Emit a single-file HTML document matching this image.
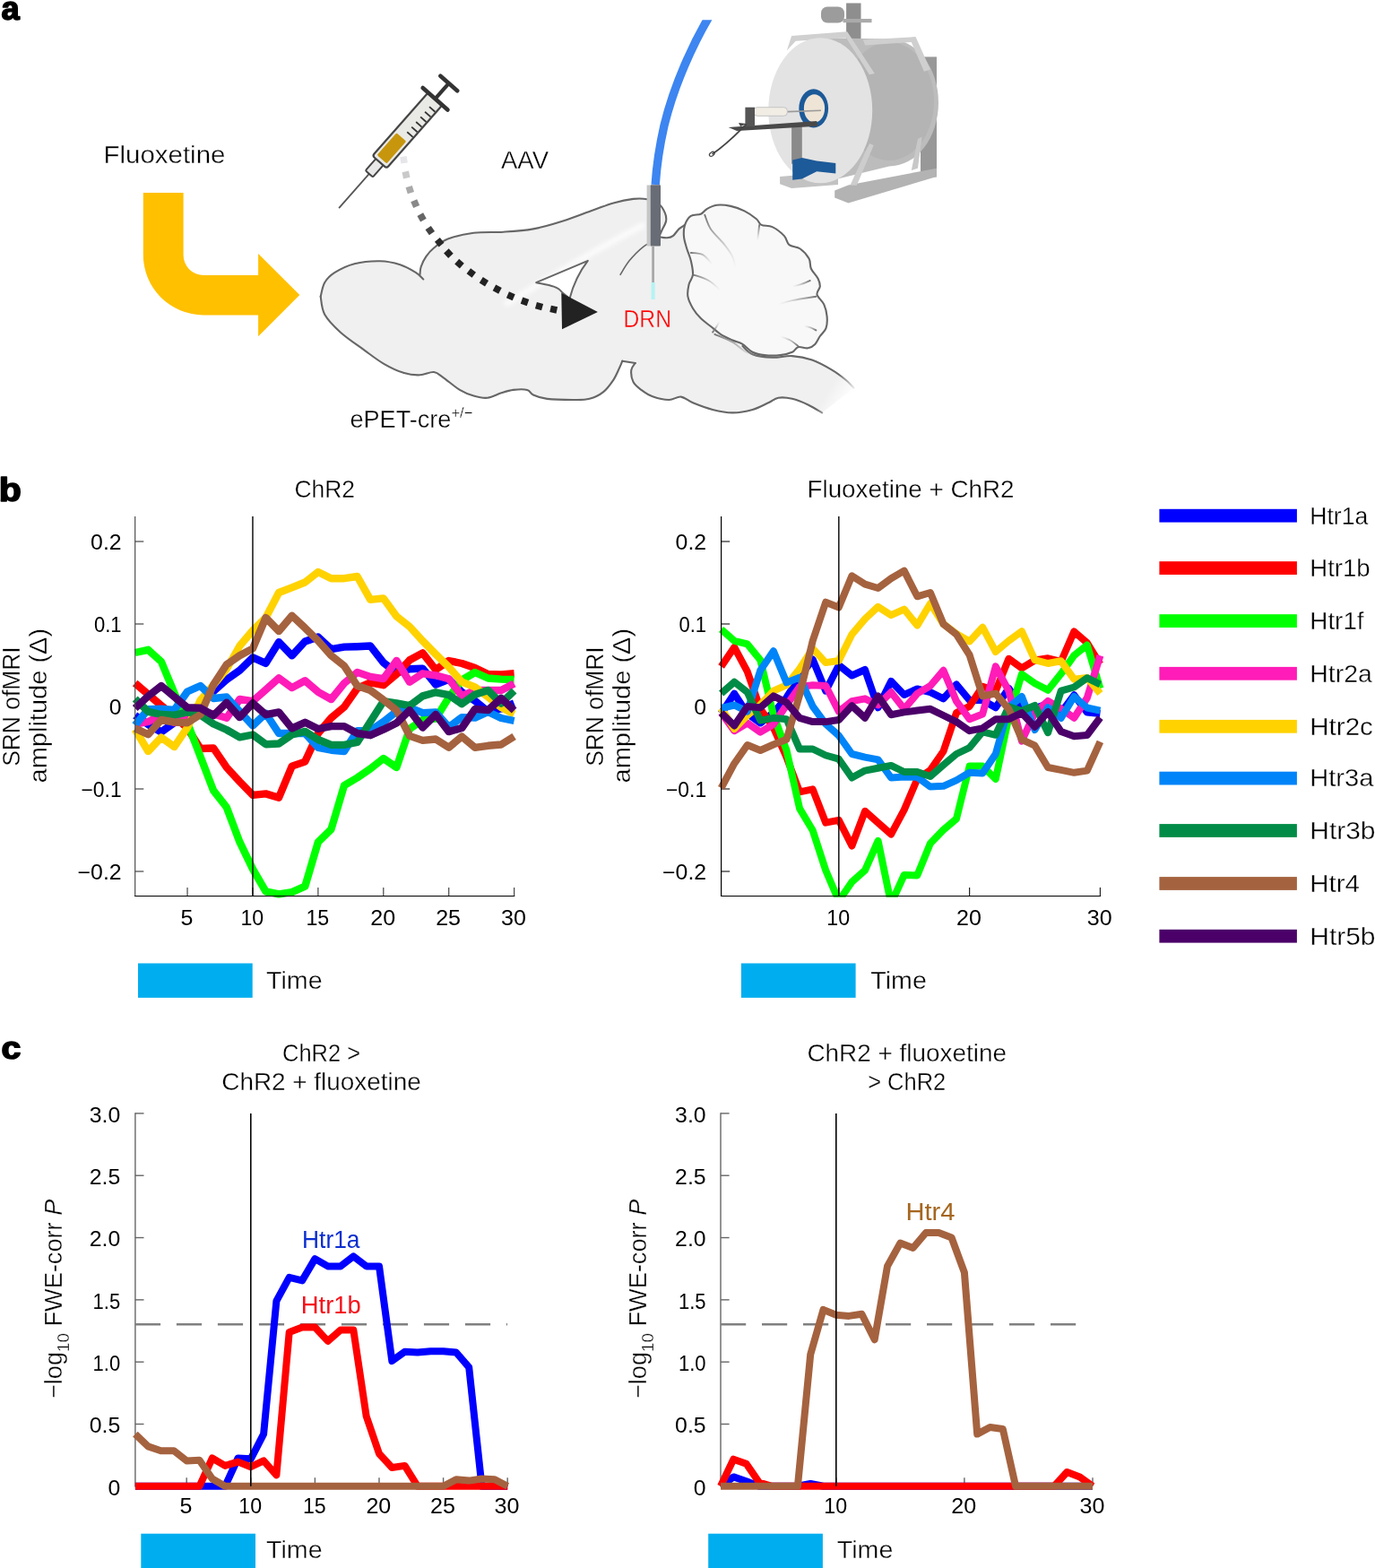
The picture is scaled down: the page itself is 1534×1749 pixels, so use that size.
<!DOCTYPE html>
<html lang="en"><head><meta charset="utf-8"><title>Figure</title>
<style>
html,body{margin:0;padding:0;background:#fff;}
body{width:1534px;height:1749px;overflow:hidden;}
svg{display:block;font-family:"Liberation Sans", sans-serif;}
</style></head><body>
<svg width="1534" height="1749" viewBox="0 0 1534 1749">
<rect width="1534" height="1749" fill="#fff"/>
<defs><linearGradient id="tailfade" gradientUnits="userSpaceOnUse" x1="895" y1="420" x2="945" y2="452"><stop offset="0" stop-color="#fff" stop-opacity="0"/><stop offset="0.55" stop-color="#fff" stop-opacity="0"/><stop offset="1" stop-color="#fff" stop-opacity="1"/></linearGradient><filter id="blur3" x="-20%" y="-20%" width="140%" height="140%"><feGaussianBlur stdDeviation="2.2"/></filter><filter id="blur3s" x="-30%" y="-30%" width="160%" height="160%"><feGaussianBlur stdDeviation="1.2"/></filter><filter id="blur1" x="-20%" y="-20%" width="140%" height="140%"><feGaussianBlur stdDeviation="0.5"/></filter><linearGradient id="dotfade" gradientUnits="userSpaceOnUse" x1="450" y1="178" x2="480" y2="262"><stop offset="0" stop-color="#e4e4e4"/><stop offset="0.35" stop-color="#a8a8a8"/><stop offset="0.8" stop-color="#444"/><stop offset="1" stop-color="#222"/></linearGradient></defs>
<g filter="url(#blur1)">
<path d="M357.7,330.8C358.4,328.2 359.6,319.6 362.2,315.2C364.8,310.8 367.7,307.7 373.2,304.2C378.7,300.7 386.9,296.3 395.4,294.2C403.9,292.1 415.7,291.1 424.2,291.3C432.7,291.5 439.8,293.2 446.4,295.3C453.0,297.4 459.8,301.5 464.1,304.2C468.4,306.9 470.9,310.3 472.3,311.5L468.5,306C468.7,304.6 468.6,300.8 469.7,297.5C470.8,294.2 472.8,289.9 475.2,286.4C477.6,282.9 480.0,279.8 484.1,276.5C488.2,273.2 492.2,269.3 499.6,266.5C507.0,263.7 518.1,261.1 528.4,259.8C538.7,258.5 550.5,259.4 561.6,258.7C572.7,258.0 583.8,257.4 594.9,255.4C606.0,253.4 617.0,250.0 628.1,246.5C639.2,243.0 652.0,237.8 661.4,234.5C670.8,231.2 676.8,228.5 684.3,226.4C691.8,224.3 700.2,222.6 706.5,221.9C712.8,221.2 717.2,221.3 722.0,222.3C726.8,223.3 732.0,225.1 735.3,227.7C738.6,230.2 740.6,234.5 741.9,237.6C743.2,240.7 743.6,243.3 743.1,246.5C742.6,249.7 739.9,253.6 738.6,256.5C737.3,259.4 735.8,262.9 735.3,264.2C736.8,264.4 741.6,265.5 744.2,265.3C746.8,265.1 748.6,264.8 750.8,263.1C753.0,261.5 755.3,257.4 757.5,255.4C759.7,253.4 763.0,251.7 764.1,250.9L773,306 L768,330 L782,355 L828,386C830.2,387.5 834.0,393.1 839.5,395.2C845.0,397.3 854.2,398.5 861.6,398.8C869.0,399.1 876.4,396.6 883.8,397.1C891.2,397.6 898.6,399.0 906.0,401.6C913.4,404.2 921.8,409.0 928.1,412.7C934.4,416.4 939.5,420.5 943.6,423.8C947.7,427.1 951.0,431.2 952.5,432.7L917,460.4C914.4,458.9 907.0,454.1 901.5,451.5C896.0,448.9 889.3,446.1 883.8,444.8C878.3,443.5 872.7,442.9 868.3,443.7C863.9,444.4 862.0,447.1 857.2,449.3C852.4,451.5 846.1,455.1 839.5,457.0C832.9,458.9 824.7,460.4 817.3,460.4C809.9,460.4 802.5,458.9 795.1,457.0C787.7,455.1 778.9,451.7 773.0,449.3C767.1,446.9 764.1,443.2 759.7,442.6C755.3,442.1 751.6,446.0 746.4,446.0C741.2,446.0 733.9,444.5 728.7,442.6C723.5,440.8 719.1,437.7 715.4,434.9C711.7,432.1 708.4,429.7 706.5,426.0C704.6,422.3 703.9,416.2 704.3,412.7C704.7,409.2 708.0,406.3 708.7,405.0L694.3,402.7C693.8,404.0 692.7,407.0 691.0,410.5C689.3,414.0 687.3,419.4 684.3,423.8C681.3,428.2 677.6,433.6 673.2,437.1C668.8,440.6 663.4,443.3 657.7,444.8C652.0,446.3 647.1,446.0 639.2,446.0C631.3,446.0 617.8,445.8 610.4,444.9C603.0,444.0 598.6,442.2 594.9,440.5C591.2,438.8 591.9,435.8 588.2,434.9C584.5,434.0 577.5,434.3 572.7,434.9C567.9,435.5 564.2,436.8 559.4,438.3C554.6,439.8 549.1,443.2 543.9,443.8C538.7,444.4 533.6,443.1 528.4,441.6C523.2,440.1 518.4,438.2 512.9,434.9C507.3,431.6 499.9,424.9 495.1,421.6C490.3,418.3 488.5,415.6 484.1,415.0C479.7,414.4 474.1,418.1 468.5,418.3C462.9,418.5 457.4,418.1 450.8,416.1C444.2,414.1 436.1,410.4 428.7,406.1C421.3,401.9 414.6,396.5 406.5,390.6C398.4,384.7 387.3,377.4 379.9,370.7C372.5,364.0 365.9,357.3 362.2,350.7C358.5,344.1 358.4,334.1 357.7,330.8Z" fill="#f0f0f0"/>
<path d="M566,338 C600,318 650,286 716,252" fill="none" stroke="#fcfcfc" stroke-width="7" stroke-linecap="round" filter="url(#blur3)" opacity="0.9"/>
<path d="M357.7,330.8C358.4,328.2 359.6,319.6 362.2,315.2C364.8,310.8 367.7,307.7 373.2,304.2C378.7,300.7 386.9,296.3 395.4,294.2C403.9,292.1 415.7,291.1 424.2,291.3C432.7,291.5 439.8,293.2 446.4,295.3C453.0,297.4 459.8,301.5 464.1,304.2C468.4,306.9 470.9,310.3 472.3,311.5" fill="none" stroke="#666" stroke-width="2.1" stroke-linecap="round" stroke-linejoin="round"/>
<path d="M468.5,306.0C468.7,304.6 468.6,300.8 469.7,297.5C470.8,294.2 472.8,289.9 475.2,286.4C477.6,282.9 480.0,279.8 484.1,276.5C488.2,273.2 492.2,269.3 499.6,266.5C507.0,263.7 518.1,261.1 528.4,259.8C538.7,258.5 550.5,259.4 561.6,258.7C572.7,258.0 583.8,257.4 594.9,255.4C606.0,253.4 617.0,250.0 628.1,246.5C639.2,243.0 652.0,237.8 661.4,234.5C670.8,231.2 676.8,228.5 684.3,226.4C691.8,224.3 700.2,222.6 706.5,221.9C712.8,221.2 717.2,221.3 722.0,222.3C726.8,223.3 732.0,225.1 735.3,227.7C738.6,230.2 740.6,234.5 741.9,237.6C743.2,240.7 743.6,243.3 743.1,246.5C742.6,249.7 739.9,253.6 738.6,256.5C737.3,259.4 735.8,262.9 735.3,264.2" fill="none" stroke="#666" stroke-width="2.1" stroke-linecap="round" stroke-linejoin="round"/>
<path d="M735.3,264.2C736.8,264.4 741.6,265.5 744.2,265.3C746.8,265.1 748.6,264.8 750.8,263.1C753.0,261.5 755.3,257.4 757.5,255.4C759.7,253.4 763.0,251.7 764.1,250.9" fill="none" stroke="#666" stroke-width="2.1" stroke-linecap="round" stroke-linejoin="round"/>
<path d="M357.7,330.8C358.4,334.1 358.5,344.1 362.2,350.7C365.9,357.3 372.5,364.0 379.9,370.7C387.3,377.4 398.4,384.7 406.5,390.6C414.6,396.5 421.3,401.9 428.7,406.1C436.1,410.4 444.2,414.1 450.8,416.1C457.4,418.1 462.9,418.5 468.5,418.3C474.1,418.1 479.7,414.4 484.1,415.0C488.5,415.6 490.3,418.3 495.1,421.6C499.9,424.9 507.3,431.6 512.9,434.9C518.4,438.2 523.2,440.1 528.4,441.6C533.6,443.1 538.7,444.4 543.9,443.8C549.1,443.2 554.6,439.8 559.4,438.3C564.2,436.8 567.9,435.5 572.7,434.9C577.5,434.3 584.5,434.0 588.2,434.9C591.9,435.8 591.2,438.8 594.9,440.5C598.6,442.2 603.0,444.0 610.4,444.9C617.8,445.8 631.3,446.0 639.2,446.0C647.1,446.0 652.0,446.3 657.7,444.8C663.4,443.3 668.8,440.6 673.2,437.1C677.6,433.6 681.3,428.2 684.3,423.8C687.3,419.4 689.3,414.0 691.0,410.5C692.7,407.0 693.8,404.0 694.3,402.7" fill="none" stroke="#666" stroke-width="2.1" stroke-linecap="round" stroke-linejoin="round"/>
<path d="M694.3,402.7 L708.7,405" fill="none" stroke="#666" stroke-width="2.1" stroke-linecap="round" stroke-linejoin="round"/>
<path d="M708.7,405.0C708.0,406.3 704.7,409.2 704.3,412.7C703.9,416.2 704.6,422.3 706.5,426.0C708.4,429.7 711.7,432.1 715.4,434.9C719.1,437.7 723.5,440.8 728.7,442.6C733.9,444.5 741.2,446.0 746.4,446.0C751.6,446.0 755.3,442.1 759.7,442.6C764.1,443.2 767.1,446.9 773.0,449.3C778.9,451.7 787.7,455.1 795.1,457.0C802.5,458.9 809.9,460.4 817.3,460.4C824.7,460.4 832.9,458.9 839.5,457.0C846.1,455.1 852.4,451.5 857.2,449.3C862.0,447.1 863.9,444.4 868.3,443.7C872.7,442.9 878.3,443.5 883.8,444.8C889.3,446.1 896.0,448.9 901.5,451.5C907.0,454.1 914.4,458.9 917.0,460.4" fill="none" stroke="#666" stroke-width="2.1" stroke-linecap="round" stroke-linejoin="round"/>
<path d="M828.4,386.0C830.2,387.5 834.0,393.1 839.5,395.2C845.0,397.3 854.2,398.5 861.6,398.8C869.0,399.1 876.4,396.6 883.8,397.1C891.2,397.6 898.6,399.0 906.0,401.6C913.4,404.2 921.8,409.0 928.1,412.7C934.4,416.4 939.5,420.5 943.6,423.8C947.7,427.1 951.0,431.2 952.5,432.7" fill="none" stroke="#666" stroke-width="2.1" stroke-linecap="round" stroke-linejoin="round"/>
<path d="M735.3,265.3C732.3,267.0 723.1,271.1 717.6,275.3C712.1,279.6 706.4,285.6 702.1,290.8C697.9,296.0 693.8,303.7 692.1,306.3" fill="none" stroke="#666" stroke-width="1.6" stroke-linecap="round" stroke-linejoin="round"/>
<path d="M890,395 L960,420 L960,470 L890,470 Z" fill="url(#tailfade)"/>
<path d="M598.2,315.2 L655.8,290.9 C648,301 640,316 635.5,333 L627,326 C622,319 612,318 598.2,315.2Z" fill="#fff" stroke="#666" stroke-width="2" stroke-linejoin="round"/>
<path d="M764.1,250.9C765.4,247.0 767.8,242.9 770.8,240.9C773.8,238.9 778.8,240.0 781.8,238.7C784.8,237.4 785.5,234.8 788.5,233.2C791.5,231.5 795.2,229.4 799.6,228.8C804.0,228.2 809.9,228.8 815.1,229.9C820.3,231.0 825.8,233.0 830.6,235.4C835.4,237.8 840.8,241.7 843.9,244.3C847.0,246.9 846.4,249.4 849.4,250.9C852.4,252.4 857.4,251.1 861.6,253.1C865.9,255.1 871.8,259.8 874.9,263.1C878.0,266.4 877.5,270.7 880.5,273.1C883.5,275.5 889.0,274.9 892.7,277.5C896.4,280.1 900.6,284.9 902.6,288.6C904.6,292.3 903.2,296.0 904.9,299.7C906.6,303.4 911.0,307.5 912.6,310.8C914.2,314.1 915.0,316.7 914.8,319.6C914.6,322.6 910.8,325.2 911.5,328.5C912.2,331.8 917.4,335.5 919.3,339.6C921.1,343.7 922.2,348.5 922.6,352.9C923.0,357.3 922.8,362.5 921.5,366.2C920.2,369.9 916.8,372.1 914.8,375.0C912.8,377.9 911.5,381.7 909.3,383.9C907.1,386.1 904.6,387.8 901.5,388.3C898.4,388.9 893.4,386.4 890.4,387.2C887.4,387.9 887.1,391.3 883.8,392.8C880.5,394.3 875.7,395.6 870.5,396.1C865.3,396.7 858.0,396.7 852.8,396.1C847.6,395.6 843.6,394.8 839.5,392.8C835.4,390.8 832.1,386.1 828.4,383.9C824.7,381.7 821.4,381.4 817.3,379.5C813.2,377.6 808.1,375.4 804.0,372.8C799.9,370.2 796.6,366.9 792.9,364.0C789.2,361.1 785.1,358.4 781.8,355.1C778.5,351.8 775.4,348.1 773.0,344.0C770.6,339.9 768.1,335.1 767.4,330.7C766.6,326.3 767.6,321.5 768.5,317.4C769.4,313.3 772.6,310.7 773.0,306.3C773.4,301.9 771.9,295.6 770.8,290.8C769.7,286.0 767.6,281.9 766.3,277.5C765.0,273.1 763.4,268.6 763.0,264.2C762.6,259.8 762.8,254.8 764.1,250.9Z" fill="#f8f8f8" stroke="#666" stroke-width="2.1" stroke-linejoin="round"/>
<linearGradient id="fg0" gradientUnits="userSpaceOnUse" x1="786.3" y1="239.8" x2="820.6" y2="299.7"><stop offset="0" stop-color="#6e6e6e" stop-opacity="0.95"/><stop offset="0.45" stop-color="#8a8a8a" stop-opacity="0.55"/><stop offset="1" stop-color="#bbb" stop-opacity="0"/></linearGradient>
<path d="M786.3,239.8C787.4,242.4 789.2,249.8 792.9,255.4C796.6,260.9 804.4,267.9 808.4,273.1C812.5,278.3 815.3,282.0 817.3,286.4C819.3,290.8 820.1,297.5 820.6,299.7" fill="none" stroke="url(#fg0)" stroke-width="1.9" stroke-linecap="round"/>
<linearGradient id="fg1" gradientUnits="userSpaceOnUse" x1="847.2" y1="250.9" x2="845.0" y2="268.7"><stop offset="0" stop-color="#6e6e6e" stop-opacity="0.95"/><stop offset="0.45" stop-color="#8a8a8a" stop-opacity="0.55"/><stop offset="1" stop-color="#bbb" stop-opacity="0"/></linearGradient>
<path d="M847.2,250.9C847.0,252.4 846.5,256.8 846.1,259.8C845.7,262.7 845.2,267.2 845.0,268.7" fill="none" stroke="url(#fg1)" stroke-width="1.9" stroke-linecap="round"/>
<linearGradient id="fg2" gradientUnits="userSpaceOnUse" x1="770.8" y1="282.0" x2="795.1" y2="295.2"><stop offset="0" stop-color="#6e6e6e" stop-opacity="0.95"/><stop offset="0.45" stop-color="#8a8a8a" stop-opacity="0.55"/><stop offset="1" stop-color="#bbb" stop-opacity="0"/></linearGradient>
<path d="M770.8,282.0C773.0,282.3 780.0,282.0 784.1,284.2C788.1,286.4 793.3,293.4 795.1,295.2" fill="none" stroke="url(#fg2)" stroke-width="1.9" stroke-linecap="round"/>
<linearGradient id="fg3" gradientUnits="userSpaceOnUse" x1="773.0" y1="306.3" x2="804.0" y2="324.1"><stop offset="0" stop-color="#6e6e6e" stop-opacity="0.95"/><stop offset="0.45" stop-color="#8a8a8a" stop-opacity="0.55"/><stop offset="1" stop-color="#bbb" stop-opacity="0"/></linearGradient>
<path d="M773.0,306.3C775.9,307.4 785.5,310.0 790.7,313.0C795.9,315.9 801.8,322.2 804.0,324.1" fill="none" stroke="url(#fg3)" stroke-width="1.9" stroke-linecap="round"/>
<linearGradient id="fg4" gradientUnits="userSpaceOnUse" x1="903.7" y1="313.0" x2="883.8" y2="319.6"><stop offset="0" stop-color="#6e6e6e" stop-opacity="0.95"/><stop offset="0.45" stop-color="#8a8a8a" stop-opacity="0.55"/><stop offset="1" stop-color="#bbb" stop-opacity="0"/></linearGradient>
<path d="M903.7,313.0C901.9,313.7 896.0,316.3 892.7,317.4C889.3,318.5 885.3,319.3 883.8,319.6" fill="none" stroke="url(#fg4)" stroke-width="1.9" stroke-linecap="round"/>
<linearGradient id="fg5" gradientUnits="userSpaceOnUse" x1="910.4" y1="330.7" x2="868.3" y2="339.6"><stop offset="0" stop-color="#6e6e6e" stop-opacity="0.95"/><stop offset="0.45" stop-color="#8a8a8a" stop-opacity="0.55"/><stop offset="1" stop-color="#bbb" stop-opacity="0"/></linearGradient>
<path d="M910.4,330.7C906.0,331.4 890.8,333.7 883.8,335.1C876.8,336.6 870.9,338.8 868.3,339.6" fill="none" stroke="url(#fg5)" stroke-width="1.9" stroke-linecap="round"/>
<linearGradient id="fg6" gradientUnits="userSpaceOnUse" x1="910.4" y1="368.4" x2="897.1" y2="363.5"><stop offset="0" stop-color="#6e6e6e" stop-opacity="0.95"/><stop offset="0.45" stop-color="#8a8a8a" stop-opacity="0.55"/><stop offset="1" stop-color="#bbb" stop-opacity="0"/></linearGradient>
<path d="M910.4,368.4C909.3,367.8 906.0,365.9 903.7,365.1C901.5,364.2 898.2,363.8 897.1,363.5" fill="none" stroke="url(#fg6)" stroke-width="1.9" stroke-linecap="round"/>
<linearGradient id="fg7" gradientUnits="userSpaceOnUse" x1="890.4" y1="386.1" x2="870.5" y2="375.0"><stop offset="0" stop-color="#6e6e6e" stop-opacity="0.95"/><stop offset="0.45" stop-color="#8a8a8a" stop-opacity="0.55"/><stop offset="1" stop-color="#bbb" stop-opacity="0"/></linearGradient>
<path d="M890.4,386.1C889.0,385.0 884.9,381.3 881.6,379.5C878.3,377.6 872.3,375.8 870.5,375.0" fill="none" stroke="url(#fg7)" stroke-width="1.9" stroke-linecap="round"/>
<linearGradient id="fg8" gradientUnits="userSpaceOnUse" x1="795.1" y1="370.6" x2="802.9" y2="358.4"><stop offset="0" stop-color="#6e6e6e" stop-opacity="0.95"/><stop offset="0.45" stop-color="#8a8a8a" stop-opacity="0.55"/><stop offset="1" stop-color="#bbb" stop-opacity="0"/></linearGradient>
<path d="M795.1,370.6C795.9,369.5 798.3,366.0 799.6,364.0C800.9,361.9 802.3,359.3 802.9,358.4" fill="none" stroke="url(#fg8)" stroke-width="1.9" stroke-linecap="round"/>
<linearGradient id="fg9" gradientUnits="userSpaceOnUse" x1="797.4" y1="372.8" x2="852.8" y2="398.3"><stop offset="0" stop-color="#6e6e6e" stop-opacity="0.95"/><stop offset="0.45" stop-color="#8a8a8a" stop-opacity="0.55"/><stop offset="1" stop-color="#bbb" stop-opacity="0"/></linearGradient>
<path d="M797.4,372.8C800.7,374.3 811.4,378.4 817.3,381.7C823.2,385.0 826.9,390.0 832.8,392.8C838.7,395.5 849.4,397.4 852.8,398.3" fill="none" stroke="url(#fg9)" stroke-width="1.9" stroke-linecap="round"/>
</g>
<path d="M159.8,215.1 L204.6,215.1 L204.6,284.5 A22.5,22.5 0 0 0 227.1,307 L288.1,307 L288.1,283 L334.3,329.1 L288.1,375.3 L288.1,351.4 L227,351.4 A67.2,67.2 0 0 1 159.8,284.2 Z" fill="#ffc000"/>
<g transform="translate(378.1,232.1) rotate(-48.6)">
<line x1="0" y1="0" x2="52" y2="0" stroke="#555" stroke-width="1.8"/>
<rect x="51" y="-5.5" width="18" height="11" rx="1.5" fill="#e8e8e8" stroke="#444" stroke-width="2"/>
<rect x="68.5" y="-10.5" width="94" height="21" rx="3" fill="#e9e9e6" stroke="#444" stroke-width="2.2"/>
<rect x="72.5" y="-7.2" width="33" height="14.4" rx="1.5" fill="#c8960c"/>
<line x1="114" y1="1" x2="114" y2="9.5" stroke="#333" stroke-width="1.8"/>
<line x1="121.5" y1="1" x2="121.5" y2="9.5" stroke="#333" stroke-width="1.8"/>
<line x1="129" y1="1" x2="129" y2="9.5" stroke="#333" stroke-width="1.8"/>
<line x1="136.5" y1="1" x2="136.5" y2="9.5" stroke="#333" stroke-width="1.8"/>
<line x1="144" y1="1" x2="144" y2="9.5" stroke="#333" stroke-width="1.8"/>
<line x1="151.5" y1="1" x2="151.5" y2="9.5" stroke="#333" stroke-width="1.8"/>
<line x1="162.5" y1="-18.5" x2="162.5" y2="18.5" stroke="#333" stroke-width="4.6" stroke-linecap="round"/>
<line x1="162.5" y1="0" x2="185.5" y2="0" stroke="#333" stroke-width="4.2"/>
<line x1="185.5" y1="-12.5" x2="185.5" y2="12.5" stroke="#333" stroke-width="4.6" stroke-linecap="round"/>
</g>
<rect x="446.8" y="174.5" width="7.4" height="7.6" fill="#e6e6ea" transform="rotate(81.5 450.5 178.3)"/>
<rect x="449.3" y="191.2" width="7.4" height="7.6" fill="#c9c9c9" transform="rotate(78.5 453.0 195.0)"/>
<rect x="453.6" y="207.8" width="7.4" height="7.6" fill="#a9a9a9" transform="rotate(72.4 457.3 211.6)"/>
<rect x="459.5" y="223.4" width="7.4" height="7.6" fill="#888" transform="rotate(66.6 463.2 227.2)"/>
<rect x="466.9" y="238.5" width="7.4" height="7.6" fill="#666" transform="rotate(61.0 470.6 242.3)"/>
<rect x="476.1" y="253.3" width="7.4" height="7.6" fill="#444" transform="rotate(54.9 479.8 257.1)"/>
<rect x="486.5" y="266.4" width="7.4" height="7.6" fill="#2a2a2a" transform="rotate(51.1 490.2 270.2)"/>
<rect x="496.7" y="278.8" width="7.4" height="7.6" fill="#222" transform="rotate(47.0 500.4 282.6)"/>
<rect x="508.8" y="290.3" width="7.4" height="7.6" fill="#222" transform="rotate(40.8 512.5 294.1)"/>
<rect x="522.1" y="300.7" width="7.4" height="7.6" fill="#222" transform="rotate(36.4 525.8 304.5)"/>
<rect x="536.2" y="310.5" width="7.4" height="7.6" fill="#222" transform="rotate(32.2 539.9 314.3)"/>
<rect x="551.0" y="318.9" width="7.4" height="7.6" fill="#222" transform="rotate(28.2 554.7 322.7)"/>
<rect x="566.1" y="326.5" width="7.4" height="7.6" fill="#222" transform="rotate(24.0 569.8 330.3)"/>
<rect x="581.8" y="332.6" width="7.4" height="7.6" fill="#222" transform="rotate(19.6 585.5 336.4)"/>
<rect x="597.8" y="337.8" width="7.4" height="7.6" fill="#222" transform="rotate(15.3 601.5 341.6)"/>
<rect x="614.0" y="341.4" width="7.4" height="7.6" fill="#222" transform="rotate(12.5 617.7 345.2)"/>
<path d="M626.3,326.8 L627,367.3 L666.9,348 Z" fill="#222"/>
<clipPath id="fibclip"><rect x="700" y="22.3" width="120" height="190"/></clipPath>
<path d="M795,12 C773,48 752,95 741,140 C736,162 732.5,185 731.2,206" fill="none" stroke="#3d85f0" stroke-width="9.4" clip-path="url(#fibclip)"/>
<rect x="721.6" y="206.5" width="6" height="68" fill="#c6c6c6"/>
<rect x="725.8" y="206.2" width="11.2" height="68.4" rx="1" fill="#686c74"/>
<rect x="727.2" y="274" width="2.8" height="42" fill="#a9a9a9"/>
<rect x="726.6" y="315" width="4" height="19" fill="#b5f3f3" filter="url(#blur1)"/>
<g filter="url(#blur1)">
<rect x="1027" y="63.4" width="18" height="134" fill="#989898"/>
<path d="M931.2,212.4 L946.4,206.5 L1045,187.7 L1045,197.1 L946.4,226.5 L931.2,220.6Z" fill="#b3b3b3"/>
<path d="M870.1,197.1 L911.2,193.6 L935,196 L935,206 L883.1,210 L870.1,205.3Z" fill="#c2c2c2"/>
<rect x="944.1" y="3.5" width="16.4" height="42" fill="#8e8e8e"/>
<rect x="940.5" y="21" width="32" height="4.2" fill="#aaa"/>
<rect x="916" y="7.5" width="26" height="18" rx="7" fill="#9c9c9c"/>
<path d="M915.2,42.2 L992,43.5 A55,71 0 0 1 992,185.5 L915.2,204.2 Z" fill="#bcbcbc"/>
<ellipse cx="992" cy="113" rx="50" ry="66" fill="#b4b4b4"/>
<path d="M877.9,56.3 L883.1,39.9 L945.2,35.2 L975.8,82.1 L969.9,83.3 L944.1,42.2 L887.8,45.8Z" fill="#d0d0d0"/>
<path d="M962.8,44.6 L1021.5,41.1 L1037.9,77.4 L1030.9,79.8 L1016.8,46.9 L965.2,50.5Z" fill="#cfcfcf"/>
<path d="M974.6,161.9 L955.8,206.5 L948.8,206.5 L967.5,164.3Z" fill="#c8c8c8"/>
<path d="M1028.6,152.5 L1023.9,187.7 L1016.8,190.1 L1023.9,154.9Z" fill="#c8c8c8"/>
<ellipse cx="915.2" cy="123.2" rx="58" ry="81" fill="#e3e3e3"/>
<path d="M948.8,206.5 L955.8,206.5 L974.6,161.9 L970,160 Z" fill="#cdcdcd"/>
<ellipse cx="907.7" cy="120.9" rx="16.4" ry="21.6" fill="#1f5a99"/>
<ellipse cx="908.5" cy="120.9" rx="11.6" ry="15.6" fill="#efe5d6"/>
<rect x="883.1" y="140.8" width="11.7" height="42" fill="#8a8a8a"/>
<path d="M884.2,178.4 L894.8,176 L911.2,179.5 L932.3,181.9 L932.3,193.6 L911.2,191.3 L894.8,199.5 L884.2,200.7Z" fill="#1f5a99"/>
<line x1="878" y1="124.6" x2="916" y2="123.2" stroke="#9a9a9a" stroke-width="1.6"/>
<rect x="840.8" y="119.7" width="37.6" height="9.6" rx="4" fill="#f1ede4" stroke="#c4c4c4" stroke-width="1"/>
<path d="M812.7,142 L911.2,134.9 L912.4,140.8 L822,146Z" fill="#4a4a4a"/>
<rect x="831.4" y="119.7" width="10.6" height="21.5" fill="#555"/>
<path d="M833,138 L826,141 L824,137 Z" fill="#444"/>
<path d="M832.6,138.5 C822,149 812,160 794.5,172" fill="none" stroke="#444" stroke-width="1.8"/>
<ellipse cx="794.3" cy="171.8" rx="3.2" ry="2" fill="none" stroke="#444" stroke-width="1.2" transform="rotate(-35 794.3 171.8)"/>
</g>
<text x="115.6" y="182.2" font-size="27" text-anchor="start" fill="#000" stroke="#fff" stroke-width="0.35" textLength="135.8" lengthAdjust="spacingAndGlyphs">Fluoxetine</text>
<text x="559" y="187.5" font-size="27" text-anchor="start" fill="#000" stroke="#fff" stroke-width="0.35" textLength="53" lengthAdjust="spacingAndGlyphs">AAV</text>
<text x="695.5" y="364.6" font-size="27" text-anchor="start" fill="#ff0000" stroke="#f0f0f0" stroke-width="0.35" textLength="53.5" lengthAdjust="spacingAndGlyphs">DRN</text>
<text x="390.4" y="476.6" font-size="27" textLength="137" lengthAdjust="spacingAndGlyphs" stroke="#fff" stroke-width="0.35">ePET-cre<tspan font-size="16.5" dy="-10.5">+/−</tspan></text>
<text x="1.6" y="21.8" font-size="36.3" text-anchor="start" fill="#000" font-weight="bold" stroke="#000" stroke-width="1.6" stroke-linejoin="round">a</text>
<text x="-1.2" y="559.1" font-size="37.1" text-anchor="start" fill="#000" textLength="25.1" lengthAdjust="spacingAndGlyphs" font-weight="bold" stroke="#000" stroke-width="1.6" stroke-linejoin="round">b</text>
<text x="1.6" y="1180.9" font-size="35" text-anchor="start" fill="#000" textLength="21.8" lengthAdjust="spacingAndGlyphs" font-weight="bold" stroke="#000" stroke-width="1.6" stroke-linejoin="round">c</text>
<clipPath id="clip150"><rect x="138.7" y="560" width="446.936" height="443"/></clipPath>
<line x1="150.7" y1="604" x2="160.29999999999998" y2="604" stroke="#444" stroke-width="1.2"/>
<text x="135.6" y="613.0" font-size="23.2" text-anchor="end" fill="#000" textLength="34.5" lengthAdjust="spacingAndGlyphs">0.2</text>
<line x1="150.7" y1="696" x2="160.29999999999998" y2="696" stroke="#444" stroke-width="1.2"/>
<text x="135.6" y="705.0" font-size="23.2" text-anchor="end" fill="#000" textLength="30.6" lengthAdjust="spacingAndGlyphs">0.1</text>
<line x1="150.7" y1="788.2" x2="160.29999999999998" y2="788.2" stroke="#444" stroke-width="1.2"/>
<text x="135.6" y="797.2" font-size="23.2" text-anchor="end" fill="#000" textLength="13.8" lengthAdjust="spacingAndGlyphs">0</text>
<line x1="150.7" y1="880" x2="160.29999999999998" y2="880" stroke="#444" stroke-width="1.2"/>
<text x="135.6" y="889.0" font-size="23.2" text-anchor="end" fill="#000" textLength="45.1" lengthAdjust="spacingAndGlyphs">−0.1</text>
<line x1="150.7" y1="972" x2="160.29999999999998" y2="972" stroke="#444" stroke-width="1.2"/>
<text x="135.6" y="981.0" font-size="23.2" text-anchor="end" fill="#000" textLength="49.0" lengthAdjust="spacingAndGlyphs">−0.2</text>
<line x1="209.036" y1="999.5" x2="209.036" y2="989.9" stroke="#444" stroke-width="1.2"/>
<text x="208.436" y="1032.3" font-size="23.2" text-anchor="middle" fill="#000" textLength="13.9" lengthAdjust="spacingAndGlyphs">5</text>
<line x1="281.956" y1="999.5" x2="281.956" y2="989.9" stroke="#444" stroke-width="1.2"/>
<text x="281.356" y="1032.3" font-size="23.2" text-anchor="middle" fill="#000" textLength="25.8" lengthAdjust="spacingAndGlyphs">10</text>
<line x1="354.876" y1="999.5" x2="354.876" y2="989.9" stroke="#444" stroke-width="1.2"/>
<text x="354.27599999999995" y="1032.3" font-size="23.2" text-anchor="middle" fill="#000" textLength="25.8" lengthAdjust="spacingAndGlyphs">15</text>
<line x1="427.796" y1="999.5" x2="427.796" y2="989.9" stroke="#444" stroke-width="1.2"/>
<text x="427.19599999999997" y="1032.3" font-size="23.2" text-anchor="middle" fill="#000" textLength="27.9" lengthAdjust="spacingAndGlyphs">20</text>
<line x1="500.71599999999995" y1="999.5" x2="500.71599999999995" y2="989.9" stroke="#444" stroke-width="1.2"/>
<text x="500.11599999999993" y="1032.3" font-size="23.2" text-anchor="middle" fill="#000" textLength="27.9" lengthAdjust="spacingAndGlyphs">25</text>
<line x1="573.636" y1="999.5" x2="573.636" y2="989.9" stroke="#444" stroke-width="1.2"/>
<text x="573.036" y="1032.3" font-size="23.2" text-anchor="middle" fill="#000" textLength="27.9" lengthAdjust="spacingAndGlyphs">30</text>
<g clip-path="url(#clip150)">
<polyline points="150.7,798.0 165.3,808.0 179.9,816.5 194.5,806.0 209.0,800.0 223.6,786.0 238.2,771.0 252.8,758.0 267.4,747.8 282.0,733.4 296.5,739.9 311.1,716.2 325.7,731.3 340.3,715.5 354.9,710.5 369.5,724.1 384.0,721.6 398.6,721.2 413.2,720.5 427.8,739.1 442.4,750.6 457.0,746.3 471.5,745.6 486.1,763.5 500.7,757.8 515.3,772.0 529.9,781.7 544.5,793.7 559.1,790.5 573.6,784.5" fill="none" stroke="#0000ff" stroke-width="8.4" stroke-linejoin="round" stroke-linecap="butt"/>
<polyline points="150.7,762.0 165.3,774.5 179.9,787.0 194.5,799.0 209.0,812.0 223.6,835.0 238.2,834.5 252.8,856.0 267.4,871.8 282.0,886.9 296.5,885.4 311.1,889.7 325.7,854.6 340.3,849.6 354.9,818.0 369.5,800.8 384.0,788.6 398.6,767.8 413.2,761.4 427.8,764.2 442.4,752.0 457.0,736.3 471.5,728.4 486.1,747.0 500.7,737.0 515.3,740.0 529.9,745.0 544.5,752.0 559.1,752.4 573.6,751.2" fill="none" stroke="#ff0000" stroke-width="8.4" stroke-linejoin="round" stroke-linecap="butt"/>
<polyline points="150.7,728.0 165.3,724.8 179.9,738.0 194.5,773.0 209.0,806.0 223.6,844.0 238.2,881.9 252.8,900.5 267.4,939.2 282.0,969.3 296.5,994.4 311.1,997.3 325.7,995.2 340.3,988.7 354.9,939.2 369.5,924.9 384.0,876.1 398.6,867.5 413.2,857.5 427.8,846.0 442.4,856.0 457.0,813.0 471.5,803.0 486.1,801.6 500.7,778.0 515.3,758.5 529.9,750.0 544.5,756.5 559.1,757.6 573.6,758.0" fill="none" stroke="#00ff00" stroke-width="8.4" stroke-linejoin="round" stroke-linecap="butt"/>
<polyline points="150.7,808.0 165.3,805.0 179.9,798.0 194.5,806.0 209.0,800.0 223.6,794.0 238.2,796.5 252.8,800.8 267.4,780.0 282.0,782.2 296.5,769.3 311.1,756.4 325.7,767.1 340.3,759.2 354.9,771.8 369.5,780.0 384.0,762.1 398.6,749.9 413.2,754.9 427.8,757.1 442.4,737.0 457.0,760.7 471.5,751.3 486.1,753.3 500.7,757.2 515.3,776.2 529.9,770.0 544.5,770.0 559.1,770.0 573.6,762.5" fill="none" stroke="#ff1cb8" stroke-width="8.4" stroke-linejoin="round" stroke-linecap="butt"/>
<polyline points="150.7,813.5 165.3,838.0 179.9,822.6 194.5,833.0 209.0,811.6 223.6,781.0 238.2,764.0 252.8,746.3 267.4,720.5 282.0,703.3 296.5,689.0 311.1,661.0 325.7,655.3 340.3,649.5 354.9,638.0 369.5,645.2 384.0,645.2 398.6,643.0 413.2,668.9 427.8,667.4 442.4,687.5 457.0,699.0 471.5,714.8 486.1,729.7 500.7,744.0 515.3,760.7 529.9,766.4 544.5,777.4 559.1,789.0 573.6,796.5" fill="none" stroke="#ffd200" stroke-width="8.4" stroke-linejoin="round" stroke-linecap="butt"/>
<polyline points="150.7,809.0 165.3,791.2 179.9,790.8 194.5,792.0 209.0,771.5 223.6,765.0 238.2,779.0 252.8,777.5 267.4,793.6 282.0,809.4 296.5,795.8 311.1,818.0 325.7,818.0 340.3,818.0 354.9,833.8 369.5,836.7 384.0,838.1 398.6,815.2 413.2,815.0 427.8,805.1 442.4,793.6 457.0,789.3 471.5,795.1 486.1,794.4 500.7,811.0 515.3,800.1 529.9,800.6 544.5,794.0 559.1,801.0 573.6,804.0" fill="none" stroke="#0084f8" stroke-width="8.4" stroke-linejoin="round" stroke-linecap="butt"/>
<polyline points="150.7,779.5 165.3,793.8 179.9,797.0 194.5,797.6 209.0,794.5 223.6,797.5 238.2,807.5 252.8,814.0 267.4,822.3 282.0,819.5 296.5,830.2 311.1,829.5 325.7,819.5 340.3,815.9 354.9,825.0 369.5,830.9 384.0,830.9 398.6,828.0 413.2,805.1 427.8,782.2 442.4,784.3 457.0,787.2 471.5,776.4 486.1,772.3 500.7,775.1 515.3,785.2 529.9,774.7 544.5,770.0 559.1,784.5 573.6,770.5" fill="none" stroke="#008c46" stroke-width="8.4" stroke-linejoin="round" stroke-linecap="butt"/>
<polyline points="150.7,812.4 165.3,819.2 179.9,803.0 194.5,805.5 209.0,806.2 223.6,797.0 238.2,763.5 252.8,741.3 267.4,731.3 282.0,723.4 296.5,689.0 311.1,704.0 325.7,686.8 340.3,700.4 354.9,714.8 369.5,731.3 384.0,742.7 398.6,765.0 413.2,770.0 427.8,780.7 442.4,792.2 457.0,820.9 471.5,825.9 486.1,824.5 500.7,833.7 515.3,821.6 529.9,833.9 544.5,831.8 559.1,830.5 573.6,821.5" fill="none" stroke="#a5623f" stroke-width="8.4" stroke-linejoin="round" stroke-linecap="butt"/>
<polyline points="150.7,790.0 165.3,776.5 179.9,765.1 194.5,777.2 209.0,789.3 223.6,789.8 238.2,798.0 252.8,783.8 267.4,800.1 282.0,784.3 296.5,797.2 311.1,794.4 325.7,812.3 340.3,805.8 354.9,813.0 369.5,810.1 384.0,810.1 398.6,818.0 413.2,820.2 427.8,813.7 442.4,806.5 457.0,792.2 471.5,811.6 486.1,797.0 500.7,816.1 515.3,812.0 529.9,790.9 544.5,792.1 559.1,778.8 573.6,792.5" fill="none" stroke="#4b0069" stroke-width="8.4" stroke-linejoin="round" stroke-linecap="butt"/>
</g>
<line x1="150.7" y1="576" x2="150.7" y2="1000.1" stroke="#4d4d4d" stroke-width="1.2"/>
<line x1="150.1" y1="999.5" x2="574.236" y2="999.5" stroke="#000" stroke-width="1.1"/>
<line x1="281.956" y1="576" x2="281.956" y2="999.5" stroke="#000" stroke-width="1.4"/>
<text x="362.2" y="554.6" font-size="27.5" text-anchor="middle" fill="#000" stroke="#fff" stroke-width="0.35" textLength="67.6" lengthAdjust="spacingAndGlyphs">ChR2</text>
<text x="22.2" y="788.1" font-size="27.5" text-anchor="middle" fill="#000" stroke="#fff" stroke-width="0.35" textLength="133.5" lengthAdjust="spacingAndGlyphs" transform="rotate(-90 22.2 788.1)">SRN ofMRI</text>
<text x="52.3" y="787.2" font-size="27.5" text-anchor="middle" fill="#000" stroke="#fff" stroke-width="0.35" textLength="172.6" lengthAdjust="spacingAndGlyphs" transform="rotate(-90 52.3 787.2)">amplitude (Δ)</text>
<rect x="154" y="1074.5" width="127.7" height="38.4" fill="#00aeef"/>
<text x="297.1" y="1103.4" font-size="27.5" text-anchor="start" fill="#000" stroke="#fff" stroke-width="0.35" textLength="62.5" lengthAdjust="spacingAndGlyphs">Time</text>
<clipPath id="clip804"><rect x="792.6" y="560" width="446.82000000000005" height="440.70000000000005"/></clipPath>
<line x1="804.6" y1="604" x2="814.2" y2="604" stroke="#222" stroke-width="1.2"/>
<text x="788.1" y="613.0" font-size="23.2" text-anchor="end" fill="#000" textLength="34.5" lengthAdjust="spacingAndGlyphs">0.2</text>
<line x1="804.6" y1="696" x2="814.2" y2="696" stroke="#222" stroke-width="1.2"/>
<text x="788.1" y="705.0" font-size="23.2" text-anchor="end" fill="#000" textLength="30.6" lengthAdjust="spacingAndGlyphs">0.1</text>
<line x1="804.6" y1="788.2" x2="814.2" y2="788.2" stroke="#222" stroke-width="1.2"/>
<text x="788.1" y="797.2" font-size="23.2" text-anchor="end" fill="#000" textLength="13.8" lengthAdjust="spacingAndGlyphs">0</text>
<line x1="804.6" y1="880" x2="814.2" y2="880" stroke="#222" stroke-width="1.2"/>
<text x="788.1" y="889.0" font-size="23.2" text-anchor="end" fill="#000" textLength="45.1" lengthAdjust="spacingAndGlyphs">−0.1</text>
<line x1="804.6" y1="972" x2="814.2" y2="972" stroke="#222" stroke-width="1.2"/>
<text x="788.1" y="981.0" font-size="23.2" text-anchor="end" fill="#000" textLength="49.0" lengthAdjust="spacingAndGlyphs">−0.2</text>
<line x1="935.82" y1="999.5" x2="935.82" y2="989.9" stroke="#222" stroke-width="1.2"/>
<text x="935.22" y="1032.3" font-size="23.2" text-anchor="middle" fill="#000" textLength="25.8" lengthAdjust="spacingAndGlyphs">10</text>
<line x1="1081.62" y1="999.5" x2="1081.62" y2="989.9" stroke="#222" stroke-width="1.2"/>
<text x="1081.02" y="1032.3" font-size="23.2" text-anchor="middle" fill="#000" textLength="27.9" lengthAdjust="spacingAndGlyphs">20</text>
<line x1="1227.42" y1="999.5" x2="1227.42" y2="989.9" stroke="#222" stroke-width="1.2"/>
<text x="1226.8200000000002" y="1032.3" font-size="23.2" text-anchor="middle" fill="#000" textLength="27.9" lengthAdjust="spacingAndGlyphs">30</text>
<g clip-path="url(#clip804)">
<polyline points="804.6,796.0 819.2,773.6 833.8,796.0 848.3,806.5 862.9,795.0 877.5,778.0 892.1,755.0 906.7,735.6 921.2,770.7 935.8,742.0 950.4,753.5 965.0,747.0 979.6,789.3 994.1,759.9 1008.7,775.0 1023.3,768.5 1037.9,772.1 1052.5,779.3 1067.0,763.5 1081.6,781.0 1096.2,781.0 1110.8,789.3 1125.4,767.8 1139.9,789.7 1154.5,790.0 1169.1,785.0 1183.7,795.0 1198.3,775.3 1212.8,794.5 1227.4,796.1" fill="none" stroke="#0000ff" stroke-width="8" stroke-linejoin="round" stroke-linecap="butt"/>
<polyline points="804.6,743.4 819.2,721.9 833.8,749.2 848.3,790.8 862.9,811.6 877.5,844.6 892.1,883.3 906.7,880.4 921.2,917.7 935.8,914.8 950.4,943.5 965.0,904.8 979.6,917.7 994.1,930.6 1008.7,903.4 1023.3,869.0 1037.9,859.0 1052.5,838.0 1067.0,795.0 1081.6,787.9 1096.2,765.7 1110.8,770.7 1125.4,734.8 1139.9,745.3 1154.5,736.5 1169.1,734.3 1183.7,738.0 1198.3,704.4 1212.8,717.0 1227.4,740.8" fill="none" stroke="#ff0000" stroke-width="8" stroke-linejoin="round" stroke-linecap="butt"/>
<polyline points="804.6,701.9 819.2,714.8 833.8,718.4 848.3,736.3 862.9,797.5 877.5,837.0 892.1,901.9 906.7,926.3 921.2,970.8 935.8,1005.0 950.4,983.7 965.0,970.8 979.6,937.8 994.1,1008.0 1008.7,976.0 1023.3,976.5 1037.9,940.7 1052.5,925.6 1067.0,913.4 1081.6,854.6 1096.2,854.6 1110.8,869.0 1125.4,800.0 1139.9,752.0 1154.5,762.3 1169.1,769.8 1183.7,751.6 1198.3,731.2 1212.8,719.5 1227.4,768.0" fill="none" stroke="#00ff00" stroke-width="8" stroke-linejoin="round" stroke-linecap="butt"/>
<polyline points="804.6,795.0 819.2,815.2 833.8,806.5 848.3,816.6 862.9,808.0 877.5,786.5 892.1,766.0 906.7,764.2 921.2,765.0 935.8,793.6 950.4,782.2 965.0,779.3 979.6,786.5 994.1,772.1 1008.7,790.8 1023.3,773.6 1037.9,765.0 1052.5,747.8 1067.0,782.2 1081.6,802.2 1096.2,796.5 1110.8,743.4 1125.4,770.7 1139.9,826.6 1154.5,795.0 1169.1,781.9 1183.7,790.5 1198.3,800.8 1212.8,778.5 1227.4,731.2" fill="none" stroke="#ff1cb8" stroke-width="8" stroke-linejoin="round" stroke-linecap="butt"/>
<polyline points="804.6,790.0 819.2,813.0 833.8,798.0 848.3,786.0 862.9,770.7 877.5,764.2 892.1,746.0 906.7,723.4 921.2,739.1 935.8,737.0 950.4,707.6 965.0,690.4 979.6,676.8 994.1,686.1 1008.7,679.6 1023.3,697.6 1037.9,673.2 1052.5,696.0 1067.0,707.0 1081.6,715.5 1096.2,699.7 1110.8,727.0 1125.4,714.8 1139.9,704.2 1154.5,736.1 1169.1,740.0 1183.7,737.3 1198.3,757.7 1212.8,756.0 1227.4,773.5" fill="none" stroke="#ffd200" stroke-width="8" stroke-linejoin="round" stroke-linecap="butt"/>
<polyline points="804.6,790.0 819.2,786.5 833.8,793.6 848.3,747.8 862.9,726.2 877.5,761.4 892.1,755.6 906.7,787.9 921.2,807.6 935.8,820.5 950.4,841.0 965.0,844.6 979.6,847.4 994.1,867.5 1008.7,866.5 1023.3,866.8 1037.9,877.6 1052.5,876.8 1067.0,870.4 1081.6,861.8 1096.2,862.5 1110.8,841.0 1125.4,789.0 1139.9,777.0 1154.5,814.1 1169.1,789.2 1183.7,800.9 1198.3,777.0 1212.8,789.5 1227.4,792.6" fill="none" stroke="#0084f8" stroke-width="8" stroke-linejoin="round" stroke-linecap="butt"/>
<polyline points="804.6,773.6 819.2,760.7 833.8,772.1 848.3,803.7 862.9,800.8 877.5,802.2 892.1,835.6 906.7,835.5 921.2,842.5 935.8,846.7 950.4,867.5 965.0,859.6 979.6,856.8 994.1,853.9 1008.7,861.0 1023.3,861.0 1037.9,866.0 1052.5,853.2 1067.0,841.0 1081.6,834.0 1096.2,816.3 1110.8,819.8 1125.4,788.3 1139.9,793.0 1154.5,786.9 1169.1,817.2 1183.7,770.6 1198.3,766.5 1212.8,756.2 1227.4,763.5" fill="none" stroke="#008c46" stroke-width="8" stroke-linejoin="round" stroke-linecap="butt"/>
<polyline points="804.6,879.0 819.2,851.7 833.8,831.0 848.3,837.0 862.9,830.5 877.5,824.8 892.1,775.0 906.7,714.8 921.2,671.7 935.8,677.5 950.4,642.3 965.0,651.7 979.6,656.0 994.1,645.2 1008.7,636.6 1023.3,665.3 1037.9,661.0 1052.5,696.1 1067.0,707.6 1081.6,730.5 1096.2,776.4 1110.8,773.6 1125.4,790.8 1139.9,824.8 1154.5,831.7 1169.1,856.0 1183.7,858.9 1198.3,861.8 1212.8,859.6 1227.4,827.4" fill="none" stroke="#a5623f" stroke-width="8" stroke-linejoin="round" stroke-linecap="butt"/>
<polyline points="804.6,795.1 819.2,809.4 833.8,787.9 848.3,789.3 862.9,776.4 877.5,783.6 892.1,800.8 906.7,805.1 921.2,805.1 935.8,803.0 950.4,787.2 965.0,800.8 979.6,776.4 994.1,797.2 1008.7,794.4 1023.3,792.5 1037.9,790.8 1052.5,798.0 1067.0,805.1 1081.6,815.2 1096.2,812.3 1110.8,802.2 1125.4,802.2 1139.9,795.2 1154.5,810.7 1169.1,794.0 1183.7,816.0 1198.3,821.3 1212.8,820.0 1227.4,800.5" fill="none" stroke="#4b0069" stroke-width="8" stroke-linejoin="round" stroke-linecap="butt"/>
</g>
<line x1="804.6" y1="576" x2="804.6" y2="1000.1" stroke="#000" stroke-width="1.2"/>
<line x1="804.0" y1="999.5" x2="1228.02" y2="999.5" stroke="#000" stroke-width="1.1"/>
<line x1="935.82" y1="576" x2="935.82" y2="999.5" stroke="#000" stroke-width="1.4"/>
<text x="1016" y="554.6" font-size="27.5" text-anchor="middle" fill="#000" stroke="#fff" stroke-width="0.35" textLength="231" lengthAdjust="spacingAndGlyphs">Fluoxetine + ChR2</text>
<text x="672.7" y="788.1" font-size="27.5" text-anchor="middle" fill="#000" stroke="#fff" stroke-width="0.35" textLength="133.5" lengthAdjust="spacingAndGlyphs" transform="rotate(-90 672.7 788.1)">SRN ofMRI</text>
<text x="702.8" y="787.2" font-size="27.5" text-anchor="middle" fill="#000" stroke="#fff" stroke-width="0.35" textLength="172.6" lengthAdjust="spacingAndGlyphs" transform="rotate(-90 702.8 787.2)">amplitude (Δ)</text>
<rect x="826.9" y="1074.5" width="127.7" height="38.4" fill="#00aeef"/>
<text x="971.3" y="1103.4" font-size="27.5" text-anchor="start" fill="#000" stroke="#fff" stroke-width="0.35" textLength="62.5" lengthAdjust="spacingAndGlyphs">Time</text>
<rect x="1293.4" y="567.8" width="153.5" height="14.8" fill="#0000ff"/>
<text x="1461.3" y="584.5" font-size="27.5" text-anchor="start" fill="#000" stroke="#fff" stroke-width="0.35" textLength="64.9" lengthAdjust="spacingAndGlyphs">Htr1a</text>
<rect x="1293.4" y="626.2" width="153.5" height="14.8" fill="#ff0000"/>
<text x="1461.3" y="642.9" font-size="27.5" text-anchor="start" fill="#000" stroke="#fff" stroke-width="0.35" textLength="67.4" lengthAdjust="spacingAndGlyphs">Htr1b</text>
<rect x="1293.4" y="685.2" width="153.5" height="14.8" fill="#00ff00"/>
<text x="1461.3" y="701.9" font-size="27.5" text-anchor="start" fill="#000" stroke="#fff" stroke-width="0.35" textLength="60.300000000000004" lengthAdjust="spacingAndGlyphs">Htr1f</text>
<rect x="1293.4" y="743.9" width="153.5" height="14.8" fill="#ff1cb8"/>
<text x="1461.3" y="760.5999999999999" font-size="27.5" text-anchor="start" fill="#000" stroke="#fff" stroke-width="0.35" textLength="69.5" lengthAdjust="spacingAndGlyphs">Htr2a</text>
<rect x="1293.4" y="802.9" width="153.5" height="14.8" fill="#ffd200"/>
<text x="1461.3" y="819.5999999999999" font-size="27.5" text-anchor="start" fill="#000" stroke="#fff" stroke-width="0.35" textLength="70.5" lengthAdjust="spacingAndGlyphs">Htr2c</text>
<rect x="1293.4" y="860.7" width="153.5" height="14.8" fill="#0084f8"/>
<text x="1461.3" y="877.4" font-size="27.5" text-anchor="start" fill="#000" stroke="#fff" stroke-width="0.35" textLength="71.10000000000001" lengthAdjust="spacingAndGlyphs">Htr3a</text>
<rect x="1293.4" y="919.1" width="153.5" height="14.8" fill="#008c46"/>
<text x="1461.3" y="935.8" font-size="27.5" text-anchor="start" fill="#000" stroke="#fff" stroke-width="0.35" textLength="73.2" lengthAdjust="spacingAndGlyphs">Htr3b</text>
<rect x="1293.4" y="978.1" width="153.5" height="14.8" fill="#a5623f"/>
<text x="1461.3" y="994.8" font-size="27.5" text-anchor="start" fill="#000" stroke="#fff" stroke-width="0.35" textLength="55.6" lengthAdjust="spacingAndGlyphs">Htr4</text>
<rect x="1293.4" y="1036.8" width="153.5" height="14.8" fill="#4b0069"/>
<text x="1461.3" y="1053.5" font-size="27.5" text-anchor="start" fill="#000" stroke="#fff" stroke-width="0.35" textLength="73.2" lengthAdjust="spacingAndGlyphs">Htr5b</text>
<text x="134.2" y="1667.7" font-size="23.2" text-anchor="end" fill="#000" textLength="13.8" lengthAdjust="spacingAndGlyphs">0</text>
<line x1="150.9" y1="1588.485" x2="160.5" y2="1588.485" stroke="#666" stroke-width="1.4"/>
<text x="134.2" y="1598.385" font-size="23.2" text-anchor="end" fill="#000" textLength="34.5" lengthAdjust="spacingAndGlyphs">0.5</text>
<line x1="150.9" y1="1519.17" x2="160.5" y2="1519.17" stroke="#666" stroke-width="1.4"/>
<text x="134.2" y="1529.0700000000002" font-size="23.2" text-anchor="end" fill="#000" textLength="30.6" lengthAdjust="spacingAndGlyphs">1.0</text>
<line x1="150.9" y1="1449.855" x2="160.5" y2="1449.855" stroke="#666" stroke-width="1.4"/>
<text x="134.2" y="1459.755" font-size="23.2" text-anchor="end" fill="#000" textLength="30.6" lengthAdjust="spacingAndGlyphs">1.5</text>
<line x1="150.9" y1="1380.54" x2="160.5" y2="1380.54" stroke="#666" stroke-width="1.4"/>
<text x="134.2" y="1390.44" font-size="23.2" text-anchor="end" fill="#000" textLength="34.5" lengthAdjust="spacingAndGlyphs">2.0</text>
<line x1="150.9" y1="1311.225" x2="160.5" y2="1311.225" stroke="#666" stroke-width="1.4"/>
<text x="134.2" y="1321.125" font-size="23.2" text-anchor="end" fill="#000" textLength="34.5" lengthAdjust="spacingAndGlyphs">2.5</text>
<line x1="150.9" y1="1241.9099999999999" x2="160.5" y2="1241.9099999999999" stroke="#666" stroke-width="1.4"/>
<text x="134.2" y="1251.81" font-size="23.2" text-anchor="end" fill="#000" textLength="34.5" lengthAdjust="spacingAndGlyphs">3.0</text>
<line x1="208.18" y1="1657.8" x2="208.18" y2="1648.2" stroke="#666" stroke-width="1.4"/>
<text x="207.58" y="1688.3" font-size="23.2" text-anchor="middle" fill="#000" textLength="13.9" lengthAdjust="spacingAndGlyphs">5</text>
<line x1="279.78" y1="1657.8" x2="279.78" y2="1648.2" stroke="#666" stroke-width="1.4"/>
<text x="279.17999999999995" y="1688.3" font-size="23.2" text-anchor="middle" fill="#000" textLength="25.8" lengthAdjust="spacingAndGlyphs">10</text>
<line x1="351.38" y1="1657.8" x2="351.38" y2="1648.2" stroke="#666" stroke-width="1.4"/>
<text x="350.78" y="1688.3" font-size="23.2" text-anchor="middle" fill="#000" textLength="25.8" lengthAdjust="spacingAndGlyphs">15</text>
<line x1="422.98" y1="1657.8" x2="422.98" y2="1648.2" stroke="#666" stroke-width="1.4"/>
<text x="422.38" y="1688.3" font-size="23.2" text-anchor="middle" fill="#000" textLength="27.9" lengthAdjust="spacingAndGlyphs">20</text>
<line x1="494.58000000000004" y1="1657.8" x2="494.58000000000004" y2="1648.2" stroke="#666" stroke-width="1.4"/>
<text x="493.98" y="1688.3" font-size="23.2" text-anchor="middle" fill="#000" textLength="27.9" lengthAdjust="spacingAndGlyphs">25</text>
<line x1="566.1800000000001" y1="1657.8" x2="566.1800000000001" y2="1648.2" stroke="#666" stroke-width="1.4"/>
<text x="565.58" y="1688.3" font-size="23.2" text-anchor="middle" fill="#000" textLength="27.9" lengthAdjust="spacingAndGlyphs">30</text>
<line x1="150.9" y1="1241.2" x2="150.9" y2="1658.5" stroke="#666" stroke-width="1.4"/>
<line x1="150.9" y1="1657.8" x2="566.1800000000001" y2="1657.8" stroke="#666" stroke-width="1.4"/>
<line x1="150.9" y1="1477.2" x2="566" y2="1477.2" stroke="#808080" stroke-width="2.6" stroke-dasharray="28.2 17.8"/>
<polyline points="150.9,1657.8 165.2,1657.8 179.5,1657.8 193.9,1657.8 208.2,1657.8 222.5,1657.8 236.8,1657.8 251.1,1657.8 265.5,1626.5 279.8,1627.3 294.1,1599.6 308.4,1451.2 322.7,1424.9 337.1,1428.4 351.4,1404.1 365.7,1412.4 380.0,1412.4 394.3,1401.3 408.7,1412.4 423.0,1412.4 437.3,1518.1 451.6,1507.7 465.9,1508.5 480.3,1507.2 494.6,1507.2 508.9,1508.5 523.2,1525.1 537.5,1657.8 551.9,1657.8 566.2,1657.8" fill="none" stroke="#0000ff" stroke-width="8" stroke-linejoin="round" stroke-linecap="butt"/>
<polyline points="150.9,1657.8 165.2,1657.8 179.5,1657.8 193.9,1657.8 208.2,1657.8 222.5,1657.8 236.8,1626.5 251.1,1634.9 265.5,1630.6 279.8,1636.2 294.1,1629.4 308.4,1645.3 322.7,1485.9 337.1,1480.5 351.4,1480.5 365.7,1495.9 380.0,1483.4 394.3,1483.4 408.7,1579.8 423.0,1621.5 437.3,1637.0 451.6,1634.9 465.9,1657.8 480.3,1657.8 494.6,1657.8 508.9,1657.8 523.2,1657.8 537.5,1657.8 551.9,1657.8 566.2,1657.8" fill="none" stroke="#ff0000" stroke-width="8" stroke-linejoin="round" stroke-linecap="butt"/>
<polyline points="150.9,1599.6 165.2,1613.4 179.5,1618.2 193.9,1618.2 208.2,1629.4 222.5,1628.7 236.8,1649.5 251.1,1657.8 265.5,1657.8 279.8,1657.8 294.1,1657.8 308.4,1657.8 322.7,1657.8 337.1,1657.8 351.4,1657.8 365.7,1657.8 380.0,1657.8 394.3,1657.8 408.7,1657.8 423.0,1657.8 437.3,1657.8 451.6,1657.8 465.9,1657.8 480.3,1657.8 494.6,1657.8 508.9,1650.3 523.2,1651.6 537.5,1649.5 551.9,1650.3 566.2,1657.8" fill="none" stroke="#a5623f" stroke-width="8" stroke-linejoin="round" stroke-linecap="butt"/>
<line x1="279.78" y1="1241.9" x2="279.78" y2="1657.8" stroke="#000" stroke-width="1.6"/>
<text x="358.5" y="1184" font-size="27.5" text-anchor="middle" fill="#000" stroke="#fff" stroke-width="0.35" textLength="87" lengthAdjust="spacingAndGlyphs">ChR2 &gt;</text>
<text x="358.5" y="1216.1" font-size="27.5" text-anchor="middle" fill="#000" stroke="#fff" stroke-width="0.35" textLength="222.5" lengthAdjust="spacingAndGlyphs">ChR2 + fluoxetine</text>
<text x="68.8" y="1448.9" font-size="27.5" text-anchor="middle" transform="rotate(-90 68.8 1448.9)" textLength="222.3" lengthAdjust="spacingAndGlyphs" stroke="#fff" stroke-width="0.35">−log<tspan font-size="19" dy="8">10</tspan><tspan dy="-8"> FWE-corr </tspan><tspan font-style="italic">P</tspan></text>
<rect x="157.3" y="1710.7" width="127.7" height="38.4" fill="#00aeef"/>
<text x="297.1" y="1738.2" font-size="27.5" text-anchor="start" fill="#000" stroke="#fff" stroke-width="0.35" textLength="62.5" lengthAdjust="spacingAndGlyphs">Time</text>
<text x="787.6" y="1667.7" font-size="23.2" text-anchor="end" fill="#000" textLength="13.8" lengthAdjust="spacingAndGlyphs">0</text>
<line x1="804" y1="1588.485" x2="813.6" y2="1588.485" stroke="#666" stroke-width="1.4"/>
<text x="787.6" y="1598.385" font-size="23.2" text-anchor="end" fill="#000" textLength="34.5" lengthAdjust="spacingAndGlyphs">0.5</text>
<line x1="804" y1="1519.17" x2="813.6" y2="1519.17" stroke="#666" stroke-width="1.4"/>
<text x="787.6" y="1529.0700000000002" font-size="23.2" text-anchor="end" fill="#000" textLength="30.6" lengthAdjust="spacingAndGlyphs">1.0</text>
<line x1="804" y1="1449.855" x2="813.6" y2="1449.855" stroke="#666" stroke-width="1.4"/>
<text x="787.6" y="1459.755" font-size="23.2" text-anchor="end" fill="#000" textLength="30.6" lengthAdjust="spacingAndGlyphs">1.5</text>
<line x1="804" y1="1380.54" x2="813.6" y2="1380.54" stroke="#666" stroke-width="1.4"/>
<text x="787.6" y="1390.44" font-size="23.2" text-anchor="end" fill="#000" textLength="34.5" lengthAdjust="spacingAndGlyphs">2.0</text>
<line x1="804" y1="1311.225" x2="813.6" y2="1311.225" stroke="#666" stroke-width="1.4"/>
<text x="787.6" y="1321.125" font-size="23.2" text-anchor="end" fill="#000" textLength="34.5" lengthAdjust="spacingAndGlyphs">2.5</text>
<line x1="804" y1="1241.9099999999999" x2="813.6" y2="1241.9099999999999" stroke="#666" stroke-width="1.4"/>
<text x="787.6" y="1251.81" font-size="23.2" text-anchor="end" fill="#000" textLength="34.5" lengthAdjust="spacingAndGlyphs">3.0</text>
<line x1="932.79" y1="1657.8" x2="932.79" y2="1648.2" stroke="#666" stroke-width="1.4"/>
<text x="932.1899999999999" y="1688.3" font-size="23.2" text-anchor="middle" fill="#000" textLength="25.8" lengthAdjust="spacingAndGlyphs">10</text>
<line x1="1075.8899999999999" y1="1657.8" x2="1075.8899999999999" y2="1648.2" stroke="#666" stroke-width="1.4"/>
<text x="1075.29" y="1688.3" font-size="23.2" text-anchor="middle" fill="#000" textLength="27.9" lengthAdjust="spacingAndGlyphs">20</text>
<line x1="1218.99" y1="1657.8" x2="1218.99" y2="1648.2" stroke="#666" stroke-width="1.4"/>
<text x="1218.39" y="1688.3" font-size="23.2" text-anchor="middle" fill="#000" textLength="27.9" lengthAdjust="spacingAndGlyphs">30</text>
<line x1="804" y1="1241.2" x2="804" y2="1658.5" stroke="#666" stroke-width="1.4"/>
<line x1="804" y1="1657.8" x2="1218.99" y2="1657.8" stroke="#666" stroke-width="1.4"/>
<line x1="804" y1="1477.2" x2="1203" y2="1477.2" stroke="#808080" stroke-width="2.6" stroke-dasharray="28.2 17.8"/>
<polyline points="804.0,1657.8 818.3,1647.4 832.6,1652.3 846.9,1657.8 861.2,1657.8 875.5,1657.8 889.9,1657.8 904.2,1655.0 918.5,1657.8 932.8,1657.8 947.1,1657.8 961.4,1657.8 975.7,1657.8 990.0,1657.8 1004.3,1657.8 1018.6,1657.8 1033.0,1657.8 1047.3,1657.8 1061.6,1657.8 1075.9,1657.8 1090.2,1657.8 1104.5,1657.8 1118.8,1657.8 1133.1,1657.8 1147.4,1657.8 1161.8,1657.8 1176.1,1657.8 1190.4,1657.8 1204.7,1657.8 1219.0,1657.8" fill="none" stroke="#0000ff" stroke-width="8" stroke-linejoin="round" stroke-linecap="butt"/>
<polyline points="804.0,1657.8 818.3,1627.7 832.6,1632.8 846.9,1653.6 861.2,1657.8 875.5,1657.8 889.9,1657.8 904.2,1657.8 918.5,1657.8 932.8,1657.8 947.1,1657.8 961.4,1657.8 975.7,1657.8 990.0,1657.8 1004.3,1657.8 1018.6,1657.8 1033.0,1657.8 1047.3,1657.8 1061.6,1657.8 1075.9,1657.8 1090.2,1657.8 1104.5,1657.8 1118.8,1657.8 1133.1,1657.8 1147.4,1657.8 1161.8,1657.8 1176.1,1657.8 1190.4,1642.0 1204.7,1647.4 1219.0,1657.8" fill="none" stroke="#ff0000" stroke-width="8" stroke-linejoin="round" stroke-linecap="butt"/>
<polyline points="804.0,1657.8 818.3,1657.8 832.6,1657.8 846.9,1657.8 861.2,1657.8 875.5,1657.8 889.9,1657.8 904.2,1510.9 918.5,1460.9 932.8,1466.8 947.1,1467.9 961.4,1465.8 975.7,1494.2 990.0,1412.4 1004.3,1386.6 1018.6,1392.0 1033.0,1375.0 1047.3,1375.0 1061.6,1380.5 1075.9,1419.4 1090.2,1599.6 1104.5,1592.0 1118.8,1594.0 1133.1,1657.8 1147.4,1657.8 1161.8,1657.8 1176.1,1657.8 1190.4,1657.8 1204.7,1657.8 1219.0,1657.8" fill="none" stroke="#a5623f" stroke-width="8" stroke-linejoin="round" stroke-linecap="butt"/>
<line x1="932.79" y1="1241.9" x2="932.79" y2="1657.8" stroke="#000" stroke-width="1.6"/>
<text x="1011.7" y="1184" font-size="27.5" text-anchor="middle" fill="#000" stroke="#fff" stroke-width="0.35" textLength="222.5" lengthAdjust="spacingAndGlyphs">ChR2 + fluoxetine</text>
<text x="1011.7" y="1216.1" font-size="27.5" text-anchor="middle" fill="#000" stroke="#fff" stroke-width="0.35" textLength="87" lengthAdjust="spacingAndGlyphs">&gt; ChR2</text>
<text x="721.4" y="1448.9" font-size="27.5" text-anchor="middle" transform="rotate(-90 721.4 1448.9)" textLength="222.3" lengthAdjust="spacingAndGlyphs" stroke="#fff" stroke-width="0.35">−log<tspan font-size="19" dy="8">10</tspan><tspan dy="-8"> FWE-corr </tspan><tspan font-style="italic">P</tspan></text>
<rect x="790.2" y="1710.7" width="127.7" height="38.4" fill="#00aeef"/>
<text x="933.8" y="1738.2" font-size="27.5" text-anchor="start" fill="#000" stroke="#fff" stroke-width="0.35" textLength="62.5" lengthAdjust="spacingAndGlyphs">Time</text>
<text x="337" y="1392.4" font-size="27.5" text-anchor="start" fill="#0b2ed0" textLength="64.5" lengthAdjust="spacingAndGlyphs">Htr1a</text>
<text x="335.8" y="1465.4" font-size="27.5" text-anchor="start" fill="#f5101a" textLength="67" lengthAdjust="spacingAndGlyphs">Htr1b</text>
<text x="1010.5" y="1361.1" font-size="27.5" text-anchor="start" fill="#a5661f" textLength="55" lengthAdjust="spacingAndGlyphs">Htr4</text>
</svg>
</body></html>
